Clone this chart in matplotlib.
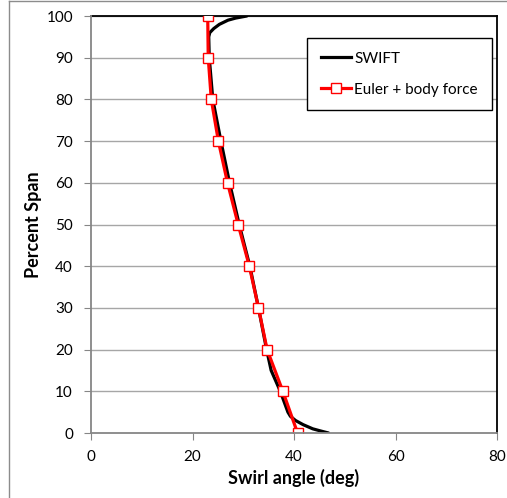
import numpy as np
import matplotlib
matplotlib.use('Agg')
import matplotlib.pyplot as plt
from matplotlib.lines import Line2D

plt.rcParams['font.family'] = ['Lato', 'DejaVu Sans']

# SWIFT solution (black curve)
swift_span = [100, 99.5, 99, 98, 97, 96, 95, 90, 80, 70, 60, 50, 40, 30, 20, 15, 10, 7, 5, 4, 3, 2, 1, 0.5, 0]
swift_angle = [30.7, 28.5, 27.0, 25.3, 24.2, 23.4, 23.2, 23.3, 24.0, 25.6, 27.3, 29.2, 31.3, 33.0, 34.6,
               35.5, 37.3, 38.2, 38.8, 39.3, 40.3, 41.8, 43.7, 45.2, 46.8]

# Euler + body force (red squares)
euler_span = [100, 90, 80, 70, 60, 50, 40, 30, 20, 10, 0]
euler_angle = [23.0, 23.1, 23.7, 25.1, 26.9, 29.0, 31.2, 33.0, 34.7, 37.8, 40.7]

xticks = [0, 20, 40, 60, 80]
yticks = list(range(0, 101, 10))

W, H = 507, 498
fig = plt.figure(figsize=(W / 100, H / 100), dpi=100)
ax = fig.add_axes([91 / W, 1 - 433 / H, (497 - 91) / W, (433 - 16) / H])

# figure border (only left and top visible in the reference)
fig.add_artist(Line2D([9 / W, 9 / W], [0, 1 - 1 / H], color='#8c8c8c', lw=1, transform=fig.transFigure))
fig.add_artist(Line2D([9 / W, 1], [1 - 1.5 / H, 1 - 1.5 / H], color='#8c8c8c', lw=1, transform=fig.transFigure))

for y in yticks[1:]:
    ax.axhline(y, color='#a6a6a6', lw=1, zorder=1)

ax.plot(swift_angle, swift_span, color='black', lw=2.3, zorder=3, solid_capstyle='round')
ax.plot(euler_angle, euler_span, color='red', lw=2.3, marker='s', ms=7.5,
        mfc='white', mec='red', mew=1, zorder=4)

ax.set_xlim(0, 80)
ax.set_ylim(0, 100)
ax.set_xticks(xticks)
ax.set_yticks(yticks)
ax.tick_params(axis='both', direction='out', length=5, color='#868686', labelsize=11)
ax.tick_params(axis='y', pad=8)
ax.tick_params(axis='x', pad=7)

ax.spines['left'].set_color('#868686')
ax.spines['bottom'].set_color('#868686')
ax.spines['top'].set_color('black')
ax.spines['right'].set_color('black')
for s in ax.spines.values():
    s.set_linewidth(1.3)
ax.spines['left'].set_zorder(5)
ax.spines['bottom'].set_zorder(5)

ax.set_xlabel('Swirl angle (deg)', fontsize=13, fontweight='bold', labelpad=4)
ax.set_ylabel('Percent Span', fontsize=13, fontweight='bold', labelpad=3)

handles = [Line2D([], [], color='black', lw=2.3),
           Line2D([], [], color='red', lw=2.3, marker='s', ms=7.5, mfc='white', mec='red', mew=1)]
leg = ax.legend(handles, ['SWIFT', 'Euler + body force'], loc='upper left',
                bbox_to_anchor=((307 - 91) / 406, (433 - 38) / 417), fontsize=11,
                frameon=True, fancybox=False, edgecolor='black', framealpha=1,
                handlelength=2.0, handletextpad=0.2, labelspacing=1.1,
                borderpad=0.9, borderaxespad=0)
leg.get_frame().set_linewidth(1)

fig.savefig('out.png', dpi=100)
